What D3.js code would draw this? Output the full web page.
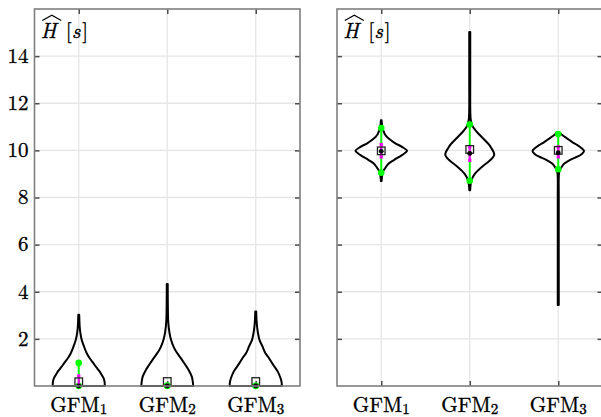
<!DOCTYPE html>
<html><head><meta charset="utf-8">
<script src="https://cdn.jsdelivr.net/npm/d3@7"></script>
<style>html,body{margin:0;padding:0;background:#fff;}svg{display:block;}</style>
</head><body>
<svg id="chart" width="601" height="417"></svg>
<script>
// ---------------- data ----------------
const categories = ["GFM_1", "GFM_2", "GFM_3"];
const yTicks = [2, 4, 6, 8, 10, 12, 14];
const yDomain = [0, 16];

// violin outlines: [value, relative half-width]
const violinLeft1 = [[0,0.98],[0.15,0.975],[0.33,0.935],[0.5,0.85],[0.61,0.79],[0.8,0.66],[0.97,0.55],[1.2,0.4],[1.39,0.3],[1.7,0.19],[1.96,0.11],[2.3,0.055],[2.52,0.035],[2.8,0.024],[3.02,0.017]];
const violinLeft2 = [[0,0.98],[0.2,0.96],[0.4,0.925],[0.69,0.8],[0.9,0.68],[1.11,0.555],[1.3,0.435],[1.53,0.3],[1.8,0.19],[2.1,0.11],[2.5,0.055],[2.8,0.034],[3.5,0.022],[4.33,0.018]];
const violinLeft3 = [[0,0.98],[0.15,0.975],[0.33,0.935],[0.61,0.83],[0.97,0.615],[1.2,0.49],[1.39,0.365],[1.7,0.245],[1.96,0.14],[2.25,0.083],[2.52,0.05],[2.8,0.03],[3.16,0.018]];
const violinRight1 = [[8.7,0.015],[8.8,0.02],[9.09,0.057],[9.25,0.15],[9.44,0.28],[9.6,0.49],[9.8,0.78],[9.98,0.97],[10.15,0.78],[10.3,0.53],[10.5,0.28],[10.7,0.13],[10.99,0.04],[11.28,0.015]];
const violinRight2 = [[8.31,0.015],[8.6,0.04],[8.81,0.095],[9.0,0.19],[9.16,0.32],[9.35,0.51],[9.51,0.69],[9.65,0.83],[9.8,0.92],[9.95,0.89],[10.08,0.82],[10.25,0.72],[10.43,0.57],[10.65,0.38],[10.86,0.21],[11.05,0.095],[11.28,0.04],[11.6,0.022],[13.0,0.019],[15.02,0.019]];
const violinRight3 = [[3.44,0.019],[5.0,0.019],[8.0,0.019],[9.0,0.026],[9.16,0.057],[9.3,0.13],[9.44,0.23],[9.6,0.45],[9.73,0.72],[9.85,0.89],[9.97,0.97],[10.1,0.87],[10.22,0.72],[10.35,0.53],[10.5,0.34],[10.65,0.15],[10.78,0.02]];

// markers
const leftGreenLo = [0.0, 0.0, 0.0];
const leftGreenHi = [0.98, 0.02, 0.02];
const leftMagLo = [0.02, 0.0, 0.0];
const leftMagHi = [0.43, 0.03, 0.03];
const leftMean = [0.18, 0.19, 0.19];
const leftMedian = [0.0, 0.0, 0.0];

const rightGreenLo = [9.05, 8.71, 9.2];
const rightGreenHi = [10.95, 11.1, 10.69];
const rightMagLo = [9.72, 9.58, 9.72];
const rightMagHi = [10.25, 10.15, 10.15];
const rightMean = [9.98, 10.04, 10.0];
const rightMedian = [9.96, 9.87, 9.9];

const panels = [
  {x0: 34.5, x1: 300, labels: true, violins: [violinLeft1, violinLeft2, violinLeft3],
   gLo: leftGreenLo, gHi: leftGreenHi, mLo: leftMagLo, mHi: leftMagHi, mean: leftMean, med: leftMedian},
  {x0: 337, x1: 602.5, labels: false, violins: [violinRight1, violinRight2, violinRight3],
   gLo: rightGreenLo, gHi: rightGreenHi, mLo: rightMagLo, mHi: rightMagHi, mean: rightMean, med: rightMedian}
];

// ---------------- drawing ----------------
const svg = d3.select("#chart");
const plotTop = 9, plotBottom = 386;
const y = d3.scaleLinear().domain(yDomain).range([plotBottom, plotTop]);
const FONT = '"Latin Modern Roman"';
const FS = 21;
const gridColor = "#e6e6e6", axisColor = "#7f7f7f", tickColor = "#4d4d4d";

function styleText(sel) {
  return sel.style("font-family", FONT).style("font-size", FS + "px")
    .attr("fill", "#000").attr("stroke", "#000").attr("stroke-width", 0.35);
}

panels.forEach(p => {
  const x = d3.scaleLinear().domain([0.5, 3.5]).range([p.x0, p.x1]);
  const w = d3.scaleLinear().domain([0, 1]).range([0, x(1.3) - x(1)]);
  const g = svg.append("g");
  const idx = categories.map((c, i) => i + 1);

  // gridlines
  g.append("g").selectAll("line").data(yTicks).join("line")
    .attr("x1", p.x0).attr("x2", p.x1).attr("y1", d => y(d)).attr("y2", d => y(d))
    .attr("stroke", gridColor).attr("stroke-width", 1.3);
  g.append("g").selectAll("line").data(idx).join("line")
    .attr("x1", d => x(d)).attr("x2", d => x(d)).attr("y1", plotTop).attr("y2", plotBottom)
    .attr("stroke", gridColor).attr("stroke-width", 1.3);

  // axes (inward ticks)
  const axL = g.append("g").attr("transform", `translate(${p.x0},0)`)
    .call(d3.axisLeft(y).tickValues(yTicks).tickSize(-5).tickFormat(""));
  const axR = g.append("g").attr("transform", `translate(${p.x1},0)`)
    .call(d3.axisRight(y).tickValues(yTicks).tickSize(-5).tickFormat(""));
  const axB = g.append("g").attr("transform", `translate(0,${plotBottom})`)
    .call(d3.axisBottom(x).tickValues(idx).tickSize(-5).tickFormat(""));
  const axT = g.append("g").attr("transform", `translate(0,${plotTop})`)
    .call(d3.axisTop(x).tickValues(idx).tickSize(-5).tickFormat(""));
  [axL, axR, axB, axT].forEach(a => {
    a.select(".domain").remove();
    a.selectAll(".tick line").attr("stroke", tickColor).attr("stroke-width", 1.5);
    a.selectAll(".tick text").remove();
  });

  // y labels
  if (p.labels) {
    styleText(g.append("g").selectAll("text").data(yTicks).join("text")
      .attr("x", p.x0 - 6).attr("y", d => y(d) + 6.8)
      .attr("text-anchor", "end")).text(d => d);
  }

  // x labels
  categories.forEach((c, i) => {
    const [base, sub] = c.split("_");
    const t = styleText(g.append("text").attr("x", x(i + 1)).attr("y", 411.5)
      .attr("text-anchor", "middle"));
    t.append("tspan").text(base);
    t.append("tspan").attr("dy", 2.8).style("font-size", "15px").text(sub);
  });

  // violins
  p.violins.forEach((v, i) => {
    const cx = x(i + 1);
    const area = d3.area()
      .y(d => y(d[0]))
      .x0(d => cx - w(d[1]))
      .x1(d => cx + w(d[1]))
      .curve(d3.curveCatmullRom.alpha(0.5));
    g.append("path").attr("d", area(v)).attr("fill", "none")
      .attr("stroke", "#000").attr("stroke-width", 2).attr("stroke-linejoin", "round");
  });

  // markers
  idx.forEach((c, i) => {
    const cx = x(c);
    g.append("line").attr("x1", cx).attr("x2", cx)
      .attr("y1", y(p.gLo[i])).attr("y2", y(p.gHi[i]))
      .attr("stroke", "#00ff00").attr("stroke-width", 2);
    [p.gLo[i], p.gHi[i]].forEach(val => {
      g.append("circle").attr("cx", cx).attr("cy", y(val)).attr("r", 3.3).attr("fill", "#00ff00");
    });
    g.append("line").attr("x1", cx).attr("x2", cx)
      .attr("y1", y(p.mLo[i])).attr("y2", y(p.mHi[i]))
      .attr("stroke", "#ff00ff").attr("stroke-width", 2.2);
    [p.mLo[i], p.mHi[i]].forEach(val => {
      g.append("rect").attr("x", cx - 1.6).attr("y", y(val) - 1.6).attr("width", 3.2).attr("height", 3.2).attr("fill", "#ff00ff");
    });
    g.append("rect").attr("x", cx - 3.8).attr("y", y(p.mean[i]) - 3.8)
      .attr("width", 7.6).attr("height", 7.6).attr("fill", "none")
      .attr("stroke", "#222").attr("stroke-width", 1.3);
    g.append("circle").attr("cx", cx).attr("cy", y(p.med[i])).attr("r", 2.4).attr("fill", "#000");
  });

  // border
  g.append("rect").attr("x", p.x0).attr("y", plotTop).attr("width", p.x1 - p.x0).attr("height", plotBottom - plotTop)
    .attr("fill", "none").attr("stroke", axisColor).attr("stroke-width", 1.6);

  // title  \hat{H} [s]
  const tx = p.x0 + 6.3;
  g.append("path").attr("d", `M${tx + 1.5},20.5 L${tx + 11},15.2 L${tx + 20.5},20.5`)
    .attr("fill", "none").attr("stroke", "#000").attr("stroke-width", 1.2);
  const tt = styleText(g.append("text").attr("y", 37.5));
  tt.append("tspan").attr("x", tx).style("font-style", "italic").text("H");
  tt.append("tspan").attr("x", tx + 25).text("[");
  tt.append("tspan").attr("x", tx + 31).style("font-style", "italic").text("s");
  tt.append("tspan").attr("x", tx + 41.5).text("]");
});
</script>
</body></html>
